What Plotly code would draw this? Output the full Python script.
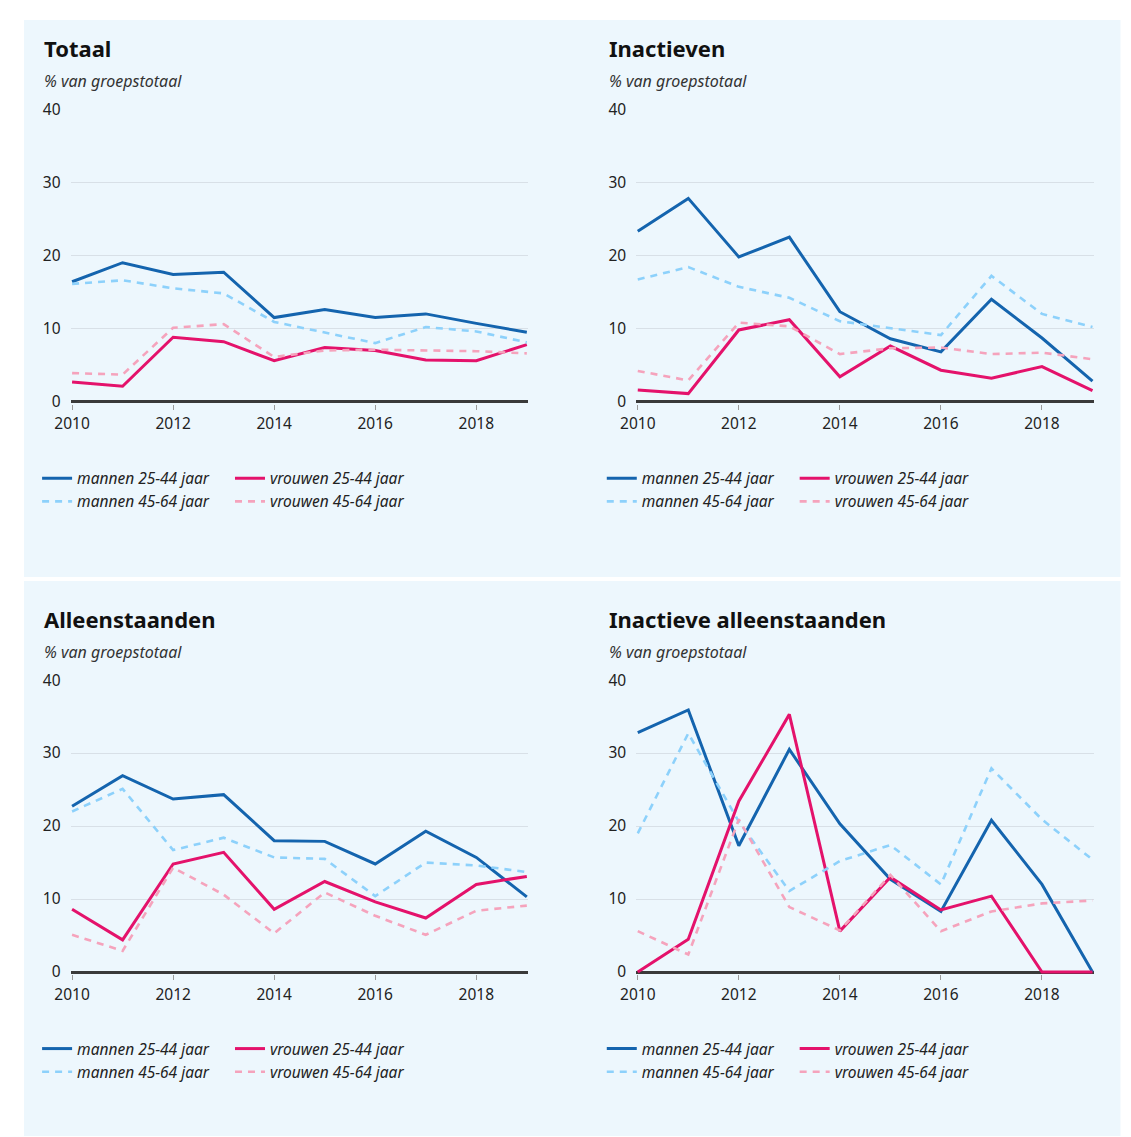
import plotly.graph_objects as go

# the captured picture shows the figure shifted and slightly shrunk; positions below are
# given in reference pixels and converted to figure pixels with this measured mapping
SX, OX = 0.9863, 23.9
SY, OY = 0.9826, 19.8
W, H = 1123, 1137

years = list(range(2010, 2020))

series_names = ["mannen 25-44 jaar", "vrouwen 25-44 jaar", "mannen 45-64 jaar", "vrouwen 45-64 jaar"]
panel_titles = ["Totaal", "Inactieven", "Alleenstaanden", "Inactieve alleenstaanden"]
subtitle = "% van groepstotaal"

# Totaal
totaal_m25 = [16.4, 19.0, 17.4, 17.7, 11.5, 12.6, 11.5, 12.0, 10.7, 9.5]
totaal_v25 = [2.7, 2.1, 8.8, 8.2, 5.6, 7.4, 7.0, 5.7, 5.6, 7.8]
totaal_m45 = [16.1, 16.6, 15.5, 14.8, 10.9, 9.4, 8.0, 10.2, 9.6, 8.1]
totaal_v45 = [3.9, 3.7, 10.1, 10.6, 6.1, 7.0, 7.1, 7.0, 6.9, 6.6]

# Inactieven
inact_m25 = [23.3, 27.8, 19.8, 22.5, 12.3, 8.6, 6.8, 14.0, 8.7, 2.8]
inact_v25 = [1.6, 1.1, 9.8, 11.2, 3.4, 7.6, 4.3, 3.2, 4.8, 1.5]
inact_m45 = [16.7, 18.4, 15.7, 14.2, 11.0, 10.0, 9.1, 17.2, 12.0, 10.2]
inact_v45 = [4.2, 2.9, 10.8, 10.3, 6.5, 7.3, 7.4, 6.5, 6.7, 5.8]

# Alleenstaanden
alleen_m25 = [22.7, 26.9, 23.7, 24.3, 18.0, 17.9, 14.8, 19.3, 15.7, 10.3]
alleen_v25 = [8.6, 4.4, 14.8, 16.4, 8.6, 12.4, 9.6, 7.4, 12.0, 13.1]
alleen_m45 = [22.0, 25.1, 16.7, 18.4, 15.7, 15.5, 10.4, 15.0, 14.6, 13.7]
alleen_v45 = [5.1, 2.9, 14.3, 10.6, 5.3, 10.9, 7.7, 5.1, 8.4, 9.1]

# Inactieve alleenstaanden
ina_all_m25 = [32.8, 35.9, 17.3, 30.5, 20.3, 12.7, 8.3, 20.8, 12.0, 0.0]
ina_all_v25 = [0.0, 4.5, 23.4, 35.3, 5.6, 13.0, 8.5, 10.4, 0.0, 0.0]
ina_all_m45 = [19.0, 32.7, 20.6, 11.1, 15.2, 17.4, 12.0, 27.9, 20.9, 15.4]
ina_all_v45 = [5.6, 2.4, 20.9, 8.9, 5.7, 13.3, 5.6, 8.3, 9.4, 9.8]

panels = [
    [totaal_m25, totaal_v25, totaal_m45, totaal_v45],
    [inact_m25, inact_v25, inact_m45, inact_v45],
    [alleen_m25, alleen_v25, alleen_m45, alleen_v45],
    [ina_all_m25, ina_all_v25, ina_all_m45, ina_all_v45],
]

colors = ["#1464ae", "#e4126b", "#8dd1fb", "#f5a3bc"]
dashes = ["solid", "solid", "7px,6px", "7px,6px"]
widths = [3, 3, 2.6, 2.6]

BG = "#edf7fd"
FONT = "Noto Sans"


def fx(p):
    return max(0.0, (p - OX) / SX) / W


def fy(p):
    return 1 - max(0.0, (p - OY) / SY) / H


# reference-pixel layout of each panel: x of 2010, x of 2019, y of 40, y of 0, title spot
geom = [
    dict(x0=72, x1=527, top=109, zero=401.5, tx=42, ty=48),
    dict(x0=638, x1=1093, top=109, zero=401.5, tx=607, ty=48),
    dict(x0=72, x1=527, top=680, zero=972, tx=42, ty=619),
    dict(x0=638, x1=1093, top=680, zero=972, tx=607, ty=619),
]

fig = go.Figure()

shapes = [
    dict(type="rect", xref="paper", yref="paper", x0=fx(7), x1=fx(1121), y0=fy(577), y1=fy(10),
         fillcolor=BG, line_width=0, layer="below"),
    dict(type="rect", xref="paper", yref="paper", x0=fx(7), x1=fx(1121), y0=fy(1136), y1=fy(581),
         fillcolor=BG, line_width=0, layer="below"),
]
annotations = []
xpad, ypad = 0.03, 0.3

for i, (g, data) in enumerate(zip(geom, panels)):
    n = i + 1
    xa = "x" if n == 1 else f"x{n}"
    ya = "y" if n == 1 else f"y{n}"
    pxy = (g["x1"] - g["x0"]) / 9
    pyu = (g["zero"] - g["top"]) / 40
    dom_x = [fx(g["x0"] - xpad * pxy), fx(g["x1"] + xpad * pxy)]
    dom_y = [fy(g["zero"] + ypad * pyu), fy(g["top"])]

    for k in range(4):
        col_legend = 2 * i + (1 if k % 2 == 0 else 2)
        lg = "legend" if col_legend == 1 else f"legend{col_legend}"
        fig.add_trace(go.Scatter(
            x=years, y=data[k], mode="lines", name=series_names[k],
            line=dict(color=colors[k], width=widths[k], dash=dashes[k]),
            xaxis=xa, yaxis=ya, legend=lg, showlegend=True, hoverinfo="x+y+name",
        ))

    ax_font = dict(family=FONT, size=15.5, color="#222")
    fig.layout[f"xaxis{'' if n == 1 else n}"] = dict(
        domain=dom_x, anchor=ya, range=[2010 - xpad, 2019 + xpad],
        tickvals=[2010, 2012, 2014, 2016, 2018], ticks="outside", ticklen=5, tickwidth=1,
        tickcolor="#9a9a9a", showgrid=False, zeroline=False, showline=False,
        tickfont=ax_font, ticklabelstandoff=1, fixedrange=True,
    )
    fig.layout[f"yaxis{'' if n == 1 else n}"] = dict(
        domain=dom_y, anchor=xa, range=[-ypad, 40],
        tickvals=[0, 10, 20, 30, 40], showgrid=True, gridcolor="#d8e0e7", gridwidth=1,
        zeroline=True, zerolinecolor="#3a3a3a", zerolinewidth=2.5,
        tickfont=ax_font, ticklabelstandoff=9, fixedrange=True,
    )

    annotations.append(dict(
        text=f"<b>{panel_titles[i]}</b>", x=fx(g["tx"]), y=fy(g["ty"]), xref="paper", yref="paper",
        xanchor="left", yanchor="middle", showarrow=False,
        font=dict(family=FONT, size=22, color="#111"),
    ))
    annotations.append(dict(
        text=f"<i>{subtitle}</i>", x=fx(g["tx"]), y=fy(g["ty"] + 33), xref="paper", yref="paper",
        xanchor="left", yanchor="middle", showarrow=False,
        font=dict(family=FONT, size=16, color="#333"),
    ))

    # two legend columns per panel
    ly = g["zero"] + 60
    for c, lx in enumerate([g["tx"] - 5, g["tx"] + 188]):
        idx = 2 * i + c + 1
        key = "legend" if idx == 1 else f"legend{idx}"
        fig.layout[key] = dict(
            x=fx(lx), y=fy(ly), xanchor="left", yanchor="top", orientation="v",
            bgcolor="rgba(0,0,0,0)", borderwidth=0, itemwidth=30, tracegroupgap=0,
            font=dict(family=FONT, size=15.5, color="#222", style="italic"),
        )

fig.update_layout(
    width=W, height=H, margin=dict(l=0, r=0, t=0, b=0),
    paper_bgcolor="white", plot_bgcolor="rgba(0,0,0,0)",
    shapes=shapes, annotations=annotations, hovermode="closest",
)

fig.write_html("out.html")
